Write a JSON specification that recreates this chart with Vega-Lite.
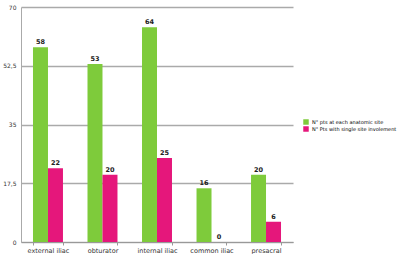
{
  "$schema": "https://vega.github.io/schema/vega-lite/v6.json",
  "width": 272,
  "height": 235,
  "autosize": {"type": "none"},
  "padding": {"left": 21, "top": 7, "right": 107, "bottom": 12},
  "background": "white",
  "config": {
    "view": {"stroke": null},
    "font": "DejaVu Sans",
    "axis": {"labelFont": "DejaVu Sans", "labelColor": "#333"}
  },
  "data": {
    "values": [
      {"site": "external iliac", "series": "N° pts at each anatomic site", "value": 58},
      {"site": "external iliac", "series": "N° Pts with single site involement", "value": 22},
      {"site": "obturator", "series": "N° pts at each anatomic site", "value": 53},
      {"site": "obturator", "series": "N° Pts with single site involement", "value": 20},
      {"site": "internal iliac", "series": "N° pts at each anatomic site", "value": 64},
      {"site": "internal iliac", "series": "N° Pts with single site involement", "value": 25},
      {"site": "common iliac", "series": "N° pts at each anatomic site", "value": 16},
      {"site": "common iliac", "series": "N° Pts with single site involement", "value": 0},
      {"site": "presacral", "series": "N° pts at each anatomic site", "value": 20},
      {"site": "presacral", "series": "N° Pts with single site involement", "value": 6}
    ]
  },
  "encoding": {
    "x": {
      "field": "site", "type": "nominal", "sort": null,
      "scale": {"paddingInner": 0.45, "paddingOuter": 0.22},
      "axis": {"title": null, "labelAngle": 0, "labelFontSize": 6.5, "domainColor": "#999", "tickColor": "#999", "tickBand": "extent", "tickSize": 3, "labelPadding": 2}
    },
    "xOffset": {"field": "series", "type": "nominal", "sort": null},
    "y": {
      "field": "value", "type": "quantitative",
      "scale": {"domain": [0, 70], "nice": false},
      "axis": {"title": null, "values": [0, 17.5, 35, 52.5, 70], "labelExpr": "replace(format(datum.value, ''), '.', ',')", "labelFontSize": 6, "gridColor": "#aaa", "gridWidth": 1.3, "domainColor": "#aaa", "ticks": false, "labelPadding": 5}
    }
  },
  "layer": [
    {
      "mark": {"type": "bar"},
      "encoding": {
        "color": {
          "field": "series", "type": "nominal", "sort": null,
          "scale": {"range": ["#7ECB3B", "#E5177B"]},
          "legend": {"title": null, "orient": "none", "legendX": 282, "legendY": 112, "symbolType": "square", "symbolSize": 30, "labelFontSize": 5, "labelOffset": 3, "rowPadding": 1, "symbolStrokeWidth": 0, "padding": 0}
        }
      }
    },
    {
      "mark": {"type": "text", "dy": -5, "fontSize": 6.5, "fontWeight": "bold", "color": "#222"},
      "encoding": {"text": {"field": "value", "type": "quantitative"}}
    }
  ]
}
